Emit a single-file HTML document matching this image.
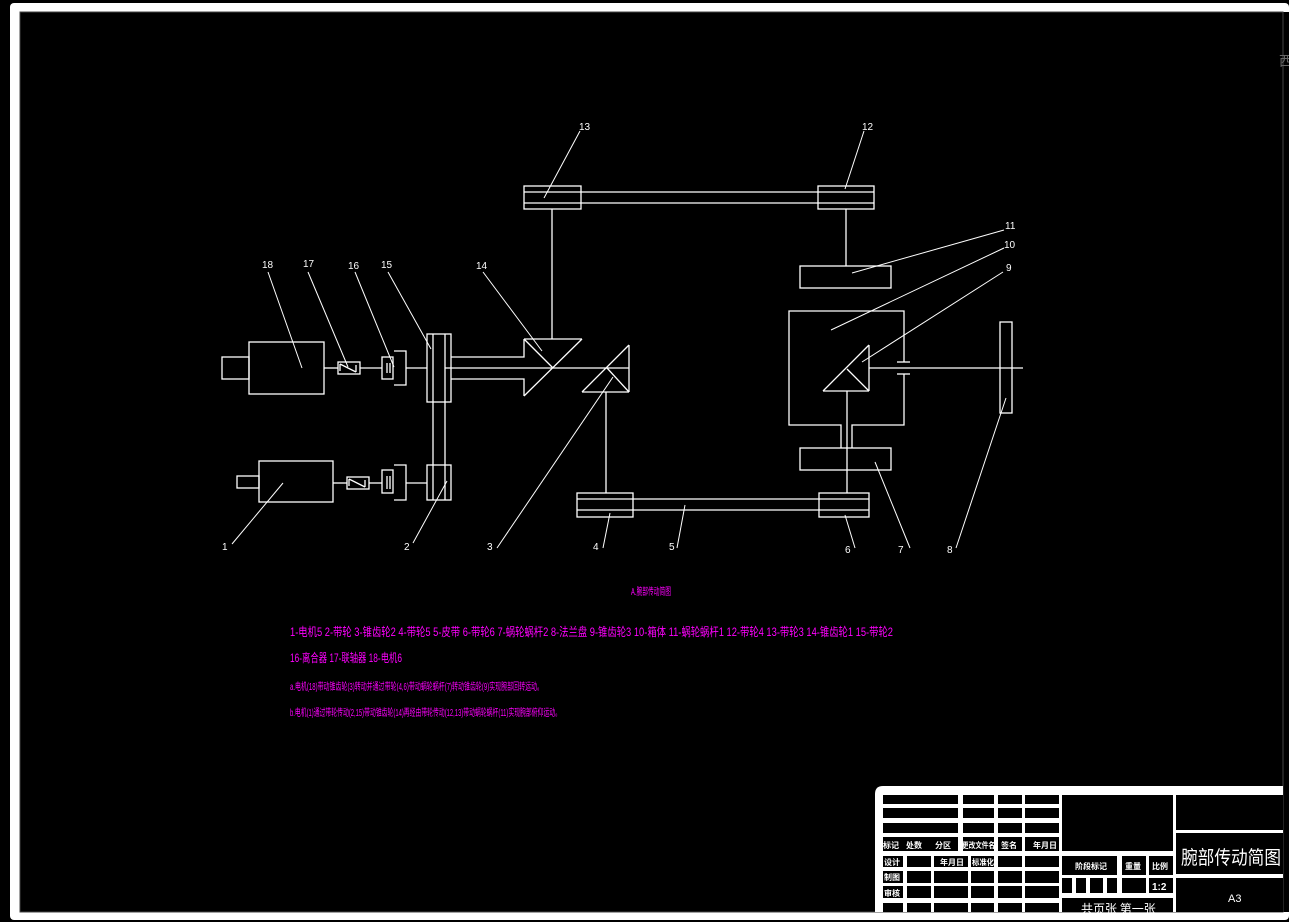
<!DOCTYPE html>
<html><head><meta charset="utf-8"><style>
html,body{margin:0;padding:0;background:#000;}
svg{display:block;}
</style></head><body>
<svg width="1289" height="922" viewBox="0 0 1289 922" xmlns="http://www.w3.org/2000/svg">
<rect x="0" y="0" width="1289" height="922" fill="#000"/>
<!-- border -->
<rect x="10" y="3" width="1279" height="917" rx="4" fill="#fff"/>
<rect x="1283" y="12" width="6" height="900" fill="#000"/>
<rect x="20" y="12" width="1263" height="900" fill="#000" stroke="#444" stroke-width="1"/>
<text x="1279" y="66" fill="#666" font-size="14" font-family="Noto Sans CJK SC, sans-serif">西</text>

<g stroke="#fff" stroke-width="1.3" fill="none">
<!-- motor 18 -->
<rect x="222" y="357" width="27" height="22"/>
<rect x="249" y="342" width="75" height="52"/>
<line x1="324" y1="368" x2="338" y2="368"/>
<rect x="338" y="362" width="22" height="12"/>
<polyline points="340,364 356,372"/>
<line x1="340" y1="364" x2="340" y2="371"/><line x1="356" y1="365" x2="356" y2="372"/>
<line x1="360" y1="368" x2="382" y2="368"/>
<rect x="382" y="357" width="11" height="22"/>
<line x1="387" y1="363" x2="387" y2="373"/><line x1="390" y1="363" x2="390" y2="373"/>
<polyline points="394,351 406,351 406,385 394,385"/>
<line x1="406" y1="368" x2="427" y2="368"/>
<!-- motor 1 -->
<rect x="237" y="476" width="22" height="12"/>
<rect x="259" y="461" width="74" height="41"/>
<line x1="333" y1="483" x2="347" y2="483"/>
<rect x="347" y="477" width="22" height="12"/>
<polyline points="349,479 365,487"/>
<line x1="349" y1="479" x2="349" y2="486"/><line x1="365" y1="480" x2="365" y2="487"/>
<line x1="369" y1="483" x2="382" y2="483"/>
<rect x="382" y="470" width="11" height="23"/>
<line x1="387" y1="476" x2="387" y2="489"/><line x1="390" y1="476" x2="390" y2="489"/>
<polyline points="394,465 406,465 406,500 394,500"/>
<line x1="406" y1="483" x2="427" y2="483"/>
<!-- gears 15 and 2 -->
<rect x="427" y="334" width="24" height="68"/>
<rect x="427" y="465" width="24" height="35"/>
<line x1="433" y1="334" x2="433" y2="500"/>
<line x1="445" y1="334" x2="445" y2="500"/>
<!-- hollow shaft -->
<polyline points="451,357 524,357 524,339"/>
<polyline points="451,379 524,379 524,396"/>
<line x1="445" y1="368" x2="629" y2="368"/>
<!-- bevel 14 -->
<line x1="524" y1="339" x2="582" y2="339"/>
<line x1="582" y1="339" x2="524" y2="396"/>
<line x1="524" y1="339" x2="553" y2="368"/>
<line x1="552" y1="339" x2="552" y2="209"/>
<!-- bevel 3 -->
<line x1="629" y1="345" x2="629" y2="392"/>
<line x1="582" y1="392" x2="629" y2="392"/>
<line x1="582" y1="392" x2="629" y2="345"/>
<line x1="629" y1="392" x2="607" y2="368"/>
<line x1="606" y1="392" x2="606" y2="493"/>
<!-- top belt 13-12 -->
<rect x="524" y="186" width="57" height="23"/>
<rect x="818" y="186" width="56" height="23"/>
<line x1="524" y1="192" x2="874" y2="192"/>
<line x1="524" y1="203" x2="874" y2="203"/>
<line x1="846" y1="209" x2="846" y2="266"/>
<!-- box 11 -->
<rect x="800" y="266" width="91" height="22"/>
<!-- bottom belt 4-6 -->
<rect x="577" y="493" width="56" height="24"/>
<rect x="819" y="493" width="50" height="24"/>
<line x1="577" y1="499" x2="869" y2="499"/>
<line x1="577" y1="510" x2="869" y2="510"/>
<!-- box 10 -->
<polyline points="841,448 841,425 789,425 789,311 904,311 904,362"/>
<polyline points="852,448 852,425 904,425 904,374"/>
<line x1="897" y1="362" x2="910" y2="362"/>
<line x1="897" y1="374" x2="910" y2="374"/>
<!-- bevel 9 -->
<line x1="869" y1="345" x2="869" y2="391"/>
<line x1="823" y1="391" x2="869" y2="391"/>
<line x1="823" y1="391" x2="869" y2="345"/>
<line x1="847" y1="369" x2="869" y2="391"/>
<line x1="869" y1="368" x2="1023" y2="368"/>
<line x1="847" y1="391" x2="847" y2="493"/>
<rect x="800" y="448" width="91" height="22"/>
<!-- part 8 -->
<rect x="1000" y="322" width="12" height="91"/>
</g>

<!-- leaders -->
<g stroke="#fff" stroke-width="1">
<line x1="580" y1="131" x2="544" y2="198"/>
<line x1="864" y1="131" x2="845" y2="189"/>
<line x1="1004" y1="230" x2="852" y2="273"/>
<line x1="1004" y1="248" x2="831" y2="330"/>
<line x1="1003" y1="272" x2="862" y2="362"/>
<line x1="268" y1="272" x2="302" y2="368"/>
<line x1="308" y1="272" x2="348" y2="367"/>
<line x1="355" y1="272" x2="394" y2="367"/>
<line x1="388" y1="272" x2="431" y2="349"/>
<line x1="483" y1="272" x2="542" y2="351"/>
<line x1="232" y1="544" x2="283" y2="483"/>
<line x1="413" y1="543" x2="447" y2="481"/>
<line x1="497" y1="548" x2="613" y2="377"/>
<line x1="603" y1="548" x2="610" y2="513"/>
<line x1="677" y1="548" x2="685" y2="505"/>
<line x1="855" y1="548" x2="845" y2="515"/>
<line x1="910" y1="548" x2="875" y2="462"/>
<line x1="956" y1="548" x2="1006" y2="398"/>
</g>
<g fill="#fff" font-family="Liberation Sans, sans-serif" font-size="10">
<text x="579" y="130">13</text><text x="862" y="130">12</text>
<text x="1005" y="229">11</text><text x="1004" y="248">10</text><text x="1006" y="271">9</text>
<text x="262" y="268">18</text><text x="303" y="267">17</text><text x="348" y="269">16</text><text x="381" y="268">15</text><text x="476" y="269">14</text>
<text x="222" y="550">1</text><text x="404" y="550">2</text><text x="487" y="550">3</text><text x="593" y="550">4</text>
<text x="669" y="550">5</text><text x="845" y="553">6</text><text x="898" y="553">7</text><text x="947" y="553">8</text>
</g>

<!-- magenta legend -->
<g fill="#ff00ff" font-family="Liberation Sans, Noto Sans CJK SC, sans-serif">
<text x="631" y="595" font-size="10" textLength="40" lengthAdjust="spacingAndGlyphs">A.腕部传动简图</text>
<text x="290" y="636" font-size="12" textLength="603" lengthAdjust="spacingAndGlyphs">1-电机5  2-带轮  3-锥齿轮2  4-带轮5  5-皮带  6-带轮6  7-蜗轮蜗杆2  8-法兰盘  9-锥齿轮3  10-箱体  11-蜗轮蜗杆1  12-带轮4  13-带轮3  14-锥齿轮1  15-带轮2</text>
<text x="290" y="662" font-size="12" textLength="112" lengthAdjust="spacingAndGlyphs">16-离合器  17-联轴器  18-电机6</text>
<text x="290" y="690" font-size="10" textLength="253" lengthAdjust="spacingAndGlyphs">a.电机(18)带动锥齿轮(3)转动并通过带轮(4,6)带动蜗轮蜗杆(7)转动锥齿轮(9)实现腕部回转运动。</text>
<text x="290" y="716" font-size="10" textLength="271" lengthAdjust="spacingAndGlyphs">b.电机(1)通过带轮传动(2,15)带动锥齿轮(14)再经由带轮传动(12,13)带动蜗轮蜗杆(11)实现腕部俯仰运动。</text>
</g>

<!-- title block -->
<path d="M875,912 L875,794 Q875,786 883,786 L1283,786 L1283,912 Z" fill="#fff"/>
<g fill="#000">
<rect x="883" y="795" width="75" height="9"/><rect x="963" y="795" width="31" height="9"/><rect x="998" y="795" width="24" height="9"/><rect x="1025" y="795" width="34" height="9"/>
<rect x="883" y="808" width="75" height="10"/><rect x="963" y="808" width="31" height="10"/><rect x="998" y="808" width="24" height="10"/><rect x="1025" y="808" width="34" height="10"/>
<rect x="883" y="823" width="75" height="10"/><rect x="963" y="823" width="31" height="10"/><rect x="998" y="823" width="24" height="10"/><rect x="1025" y="823" width="34" height="10"/>
<rect x="883" y="837" width="75" height="14"/><rect x="963" y="837" width="31" height="14"/><rect x="998" y="837" width="24" height="14"/><rect x="1025" y="837" width="34" height="14"/>
<rect x="883" y="856" width="20" height="11"/><rect x="907" y="856" width="24" height="11"/><rect x="934" y="856" width="34" height="11"/><rect x="971" y="856" width="23" height="11"/><rect x="998" y="856" width="24" height="11"/><rect x="1025" y="856" width="34" height="11"/>
<rect x="883" y="871" width="20" height="12"/><rect x="907" y="871" width="24" height="12"/><rect x="934" y="871" width="34" height="12"/><rect x="971" y="871" width="23" height="12"/><rect x="998" y="871" width="24" height="12"/><rect x="1025" y="871" width="34" height="12"/>
<rect x="883" y="886" width="20" height="12"/><rect x="907" y="886" width="24" height="12"/><rect x="934" y="886" width="34" height="12"/><rect x="971" y="886" width="23" height="12"/><rect x="998" y="886" width="24" height="12"/><rect x="1025" y="886" width="34" height="12"/>
<rect x="883" y="903" width="20" height="9"/><rect x="907" y="903" width="24" height="9"/><rect x="934" y="903" width="34" height="9"/><rect x="971" y="903" width="23" height="9"/><rect x="998" y="903" width="24" height="9"/><rect x="1025" y="903" width="34" height="9"/>
<rect x="1062" y="795" width="111" height="56"/>
<rect x="1062" y="856" width="55" height="19"/><rect x="1122" y="856" width="24" height="19"/><rect x="1149" y="856" width="24" height="19"/>
<rect x="1062" y="878" width="10" height="15"/><rect x="1076" y="878" width="10" height="15"/><rect x="1090" y="878" width="13" height="15"/><rect x="1107" y="878" width="10" height="15"/><rect x="1122" y="878" width="24" height="15"/><rect x="1149" y="878" width="24" height="15"/>
<rect x="1062" y="898" width="111" height="14"/>
<rect x="1176" y="795" width="107" height="35"/>
<rect x="1176" y="833" width="107" height="41"/>
<rect x="1176" y="878" width="107" height="34"/>
</g>
<g fill="#fff" font-family="Liberation Sans, Noto Sans CJK SC, sans-serif" font-weight="bold">
<text x="883" y="848" font-size="8">标记</text><text x="906" y="848" font-size="8">处数</text><text x="935" y="848" font-size="8">分区</text>
<text x="962" y="848" font-size="8" textLength="33" lengthAdjust="spacingAndGlyphs">更改文件名</text><text x="1001" y="848" font-size="8">签名</text><text x="1033" y="848" font-size="8">年月日</text>
<text x="884" y="865" font-size="8">设计</text><text x="940" y="865" font-size="8">年月日</text><text x="972" y="865" font-size="8" textLength="22" lengthAdjust="spacingAndGlyphs">标准化</text>
<text x="884" y="880" font-size="8">制图</text><text x="884" y="896" font-size="8">审核</text>
<text x="1075" y="869" font-size="8">阶段标记</text><text x="1125" y="869" font-size="8">重量</text><text x="1152" y="869" font-size="8">比例</text>
<text x="1152" y="890" font-size="10">1:2</text>
<text x="1228" y="902" font-size="11" font-weight="normal">A3</text>
</g>
<g fill="#fff" font-family="Noto Sans CJK SC, sans-serif">
<text x="1181" y="864" font-size="19" textLength="100" lengthAdjust="spacingAndGlyphs">腕部传动简图</text>
<text x="1081" y="913" font-size="12">共页张 第一张</text>
</g>
</svg>
</body></html>
